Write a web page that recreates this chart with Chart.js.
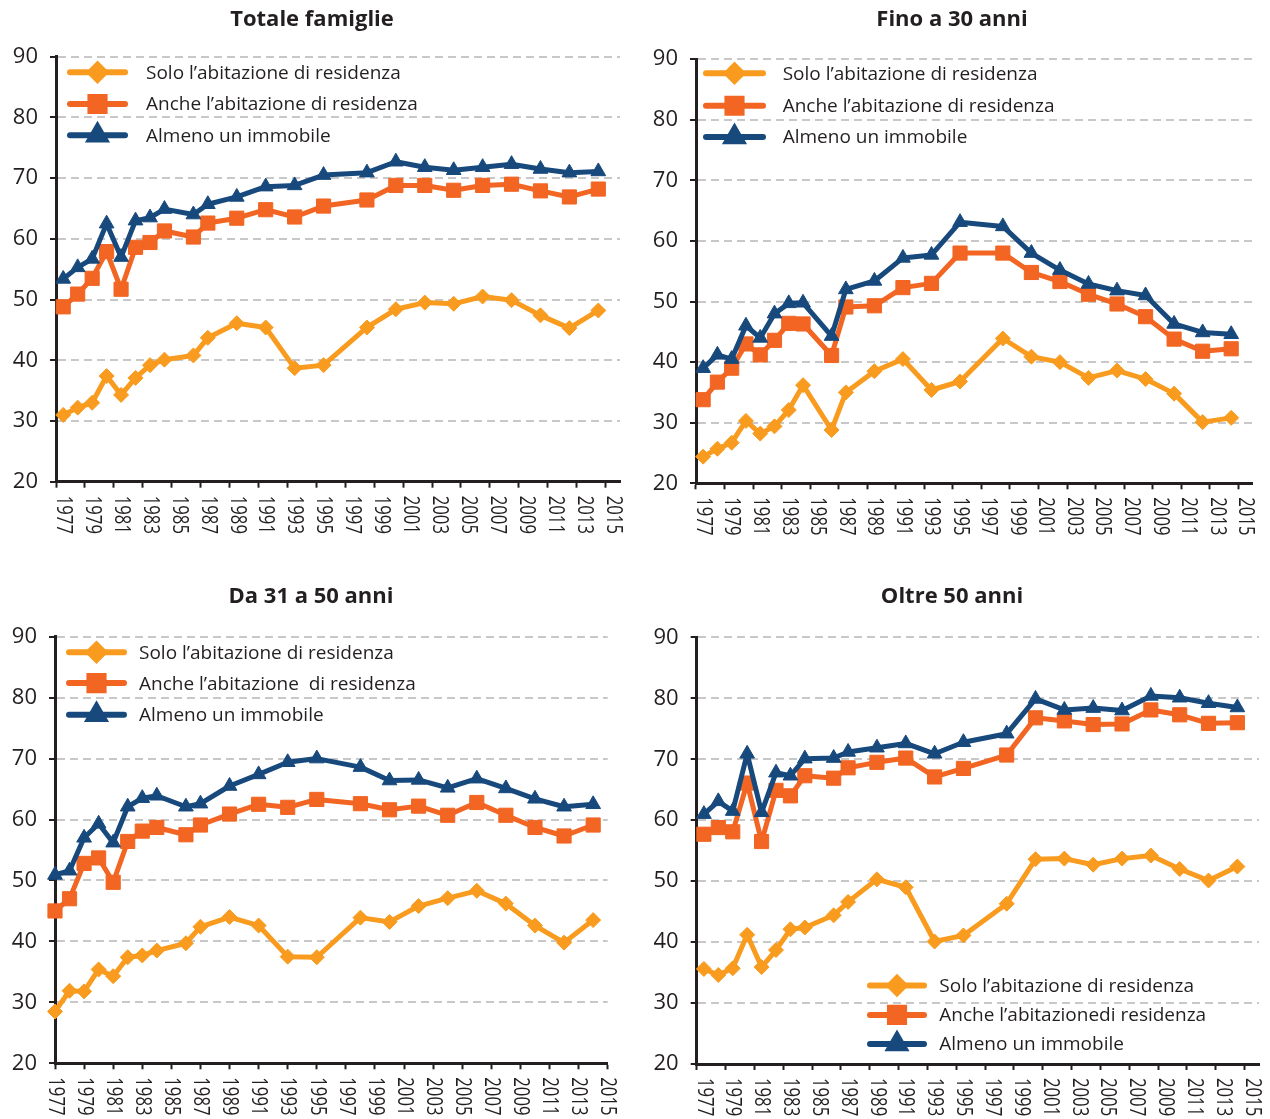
<!DOCTYPE html>
<html>
<head>
<meta charset="utf-8">
<script src="https://cdn.jsdelivr.net/npm/chart.js@4.4.1/dist/chart.umd.min.js"></script>
<style>
html,body{margin:0;padding:0;background:#ffffff;}
body{width:1270px;height:1119px;position:relative;overflow:hidden;}
canvas{position:absolute;display:block;}
</style>
</head>
<body>
<canvas id="c1" width="635" height="560" style="left:0px;top:0px"></canvas>
<canvas id="c2" width="635" height="560" style="left:635px;top:0px"></canvas>
<canvas id="c3" width="635" height="559" style="left:0px;top:560px"></canvas>
<canvas id="c4" width="635" height="559" style="left:635px;top:560px"></canvas>
<script>
// ---------------- DATA ----------------
const axisYears = ['1977','1978','1979','1980','1981','1982','1983','1984','1985','1986','1987','1988','1989','1990','1991','1992','1993','1994','1995','1996','1997','1998','1999','2000','2001','2002','2003','2004','2005','2006','2007','2008','2009','2010','2011','2012','2013','2014','2015'];
const axisLabelYears = ['1977','1979','1981','1983','1985','1987','1989','1991','1993','1995','1997','1999','2001','2003','2005','2007','2009','2011','2013','2015'];
const surveyYears = ['1977','1978','1979','1980','1981','1982','1983','1984','1986','1987','1989','1991','1993','1995','1998','2000','2002','2004','2006','2008','2010','2012','2014'];
const yTickValues = [20,30,40,50,60,70,80,90];

const seriesNames = ['Solo l\u2019abitazione di residenza','Anche l\u2019abitazione di residenza','Almeno un immobile'];
const seriesNamesDa31 = ['Solo l\u2019abitazione di residenza','Anche l\u2019abitazione  di residenza','Almeno un immobile'];
const seriesNamesOltre50 = ['Solo l\u2019abitazione di residenza','Anche l\u2019abitazionedi residenza','Almeno un immobile'];
const panelTitles = ['Totale famiglie','Fino a 30 anni','Da 31 a 50 anni','Oltre 50 anni'];

const totaleSolo   = [31.0,32.2,33.0,37.4,34.3,37.1,39.2,40.1,40.8,43.7,46.1,45.4,38.7,39.2,45.4,48.4,49.5,49.3,50.5,49.9,47.4,45.3,48.2];
const totaleAnche  = [48.8,50.9,53.5,57.9,51.7,58.6,59.4,61.3,60.3,62.6,63.4,64.8,63.6,65.4,66.4,68.8,68.8,68.0,68.8,69.0,67.9,66.9,68.2];
const totaleAlmeno = [53.4,55.3,56.7,62.5,57.0,63.0,63.5,64.9,64.0,65.7,66.9,68.6,68.8,70.5,70.9,72.7,71.8,71.3,71.8,72.3,71.5,70.9,71.1];

const fino30Solo   = [24.4,25.7,26.7,30.3,28.2,29.4,32.1,36.2,28.8,35.0,38.5,40.5,35.4,36.8,43.9,40.9,40.0,37.4,38.6,37.2,34.8,30.1,30.8];
const fino30Anche  = [33.8,36.7,39.0,43.0,41.2,43.6,46.4,46.3,41.1,49.1,49.3,52.3,53.0,58.0,58.0,54.8,53.3,51.2,49.6,47.5,43.8,41.8,42.2];
const fino30Almeno = [39.0,41.2,40.5,46.0,44.0,48.0,49.7,49.8,44.3,52.0,53.4,57.2,57.7,63.1,62.4,58.0,55.2,52.9,51.8,51.0,46.3,44.9,44.6];

const da31a50Solo   = [28.5,31.9,31.8,35.4,34.3,37.4,37.7,38.5,39.7,42.4,44.0,42.6,37.5,37.4,43.9,43.2,45.8,47.1,48.3,46.2,42.6,39.8,43.5];
const da31a50Anche  = [45.0,47.0,52.8,53.7,49.7,56.4,58.1,58.7,57.5,59.1,60.9,62.5,62.0,63.3,62.6,61.6,62.2,60.7,62.8,60.7,58.7,57.3,59.1];
const da31a50Almeno = [50.9,51.6,57.0,59.3,56.2,62.1,63.5,63.9,62.1,62.6,65.5,67.4,69.4,70.0,68.6,66.4,66.5,65.2,66.7,65.1,63.4,62.1,62.5];

const oltre50Solo   = [35.6,34.6,35.7,41.2,35.9,38.7,42.1,42.4,44.4,46.6,50.3,49.0,40.1,41.1,46.3,53.6,53.7,52.7,53.7,54.2,52.0,50.1,52.4];
const oltre50Anche  = [57.7,58.8,58.1,66.1,56.5,64.9,64.0,67.3,66.9,68.6,69.5,70.2,67.1,68.5,70.7,76.8,76.3,75.7,75.8,78.1,77.3,75.9,76.0];
const oltre50Almeno = [61.0,63.1,61.5,70.9,61.3,67.8,67.3,70.1,70.2,71.2,71.9,72.6,70.9,72.8,74.2,79.9,78.1,78.4,78.0,80.4,80.1,79.2,78.5];

// ---------------- STYLE ----------------
const COL_SOLO = '#F89B1E';
const COL_ANCHE = '#F26522';
const COL_ALMENO = '#17497D';
const TEXT = '#231F20';
const GRID = '#C8C8C8';
const FONT = '"Open Sans", "DejaVu Sans", sans-serif';

const styles = [
  {color: COL_SOLO, pointStyle: 'rectRot', radius: 7.5, order: 2},
  {color: COL_ANCHE, pointStyle: 'rect', radius: 10, order: 1},
  {color: COL_ALMENO, pointStyle: 'triangle', radius: 8.5, order: 0}
];

function pts(values) {
  return surveyYears.map((y, i) => ({x: y, y: values[i]}));
}

const decoPlugin = {
  id: 'deco',
  afterDraw(chart, args, o) {
    const ctx = chart.ctx;
    // title
    ctx.save();
    ctx.fillStyle = TEXT;
    ctx.font = 'bold 22px ' + FONT;
    ctx.textAlign = 'center';
    ctx.textBaseline = 'middle';
    ctx.fillText(o.title, o.titleX, o.titleY);
    ctx.restore();

    // x tick labels, rotated clockwise
    const xs = chart.scales.x;
    ctx.save();
    ctx.fillStyle = TEXT;
    ctx.font = '22px ' + FONT;
    ctx.textAlign = 'left';
    ctx.textBaseline = 'middle';
    axisLabelYears.forEach(lbl => {
      const px = xs.getPixelForValue(axisYears.indexOf(lbl));
      ctx.save();
      ctx.translate(px, xs.top + o.labelGap);
      ctx.rotate(Math.PI / 2);
      ctx.scale(0.76, 1);
      ctx.fillText(lbl, 0, 0);
      ctx.restore();
    });
    ctx.restore();

    // legend
    const L = o.legend;
    L.names.forEach((name, i) => {
      const st = styles[i];
      const y = L.rows[i];
      ctx.save();
      ctx.strokeStyle = st.color;
      ctx.lineWidth = 6;
      ctx.lineCap = 'round';
      ctx.beginPath();
      ctx.moveTo(L.x0 + 3, y);
      ctx.lineTo(L.x1 - 3, y);
      ctx.stroke();
      ctx.fillStyle = st.color;
      ctx.strokeStyle = st.color;
      Chart.helpers.drawPoint(ctx, {pointStyle: st.pointStyle, radius: st.radius, borderWidth: 1, rotation: 0}, (L.x0 + L.x1) / 2, y);
      ctx.fillStyle = TEXT;
      ctx.font = '19px ' + FONT;
      ctx.textAlign = 'left';
      ctx.textBaseline = 'middle';
      ctx.fillText(name, L.tx, y + 1);
      ctx.restore();
    });
  }
};

function makeChart(id, cfg) {
  const sets = [cfg.solo, cfg.anche, cfg.almeno];
  const datasets = sets.map((vals, i) => ({
    label: cfg.legend.names[i],
    data: pts(vals),
    borderColor: styles[i].color,
    backgroundColor: styles[i].color,
    pointBackgroundColor: styles[i].color,
    pointBorderColor: styles[i].color,
    pointStyle: styles[i].pointStyle,
    pointRadius: styles[i].radius,
    pointBorderWidth: 1,
    borderWidth: 5,
    borderJoinStyle: 'round',
    borderCapStyle: 'round',
    tension: 0,
    order: styles[i].order,
    clip: false
  }));
  return new Chart(document.getElementById(id), {
    type: 'line',
    data: {labels: axisYears, datasets},
    options: {
      responsive: false,
      animation: false,
      events: [],
      layout: {padding: {left: 0, right: cfg.padR, top: cfg.padT, bottom: 0}},
      plugins: {
        legend: {display: false},
        title: {display: false},
        tooltip: {enabled: false},
        deco: {
          title: cfg.title, titleX: cfg.titleX, titleY: cfg.titleY,
          labelGap: cfg.labelGap,
          legend: cfg.legend
        }
      },
      scales: {
        x: {
          type: 'category',
          offset: cfg.offset,
          afterFit: s => { s.height = cfg.xH; },
          ticks: {display: false, autoSkip: false},
          grid: {
            display: true,
            offset: cfg.offset,
            drawOnChartArea: false,
            drawTicks: true,
            tickLength: 6,
            tickWidth: 2,
            tickColor: c => (c.index % 2 === 0 ? TEXT : 'rgba(0,0,0,0)')
          },
          border: {display: true, color: TEXT, width: 3}
        },
        y: {
          min: 20, max: 90,
          afterFit: s => { s.width = cfg.yW; },
          afterBuildTicks: s => { s.ticks = yTickValues.map(v => ({value: v})); },
          ticks: {
            stepSize: 10,
            color: TEXT,
            padding: 12,
            font: {family: FONT, size: 22}
          },
          grid: {
            color: c => (c.tick && c.tick.value === 20 ? 'rgba(0,0,0,0)' : GRID),
            lineWidth: 2,
            drawTicks: true,
            tickLength: 6,
            tickWidth: 2,
            tickColor: TEXT
          },
          border: {display: true, color: TEXT, width: 3, dash: [8, 5]}
        }
      }
    },
    plugins: [decoPlugin]
  });
}

// Panel 1: Totale famiglie
makeChart('c1', {
  solo: totaleSolo, anche: totaleAnche, almeno: totaleAlmeno,
  title: panelTitles[0], titleX: 312, titleY: 20,
  offset: true, yW: 56, padR: 15, padT: 56.7, xH: 560 - 481.7, labelGap: 14,
  legend: {names: seriesNames, x0: 67, x1: 128, tx: 146, rows: [72.3, 104, 135.3]}
});
// Panel 2: Fino a 30 anni
makeChart('c2', {
  solo: fino30Solo, anche: fino30Anche, almeno: fino30Almeno,
  title: panelTitles[1], titleX: 952 - 635, titleY: 20,
  offset: true, yW: 61, padR: 17.4, padT: 59.2, xH: 560 - 483.3, labelGap: 14,
  legend: {names: seriesNames, x0: 703 - 635, x1: 766 - 635, tx: 782.7 - 635, rows: [73.3, 105.7, 137]}
});
// Panel 3: Da 31 a 50 anni
makeChart('c3', {
  solo: da31a50Solo, anche: da31a50Anche, almeno: da31a50Almeno,
  title: panelTitles[2], titleX: 311, titleY: 597 - 560,
  offset: false, yW: 55, padR: 27.3, padT: 636.7 - 560, xH: 559 - (1063.3 - 560), labelGap: 14,
  legend: {names: seriesNamesDa31, x0: 66, x1: 127, tx: 139, rows: [652.2 - 560, 683.1 - 560, 714.8 - 560]}
});
// Panel 4: Oltre 50 anni
makeChart('c4', {
  solo: oltre50Solo, anche: oltre50Anche, almeno: oltre50Almeno,
  title: panelTitles[3], titleX: 952 - 635, titleY: 597 - 560,
  offset: true, yW: 61.7, padR: 6.4, padT: 637.4 - 560, xH: 559 - (1064 - 560), labelGap: 14,
  legend: {names: seriesNamesOltre50, x0: 867 - 635, x1: 927 - 635, tx: 939.3 - 635, rows: [985.6 - 560, 1014.9 - 560, 1044 - 560]}
});
</script>
</body>
</html>
